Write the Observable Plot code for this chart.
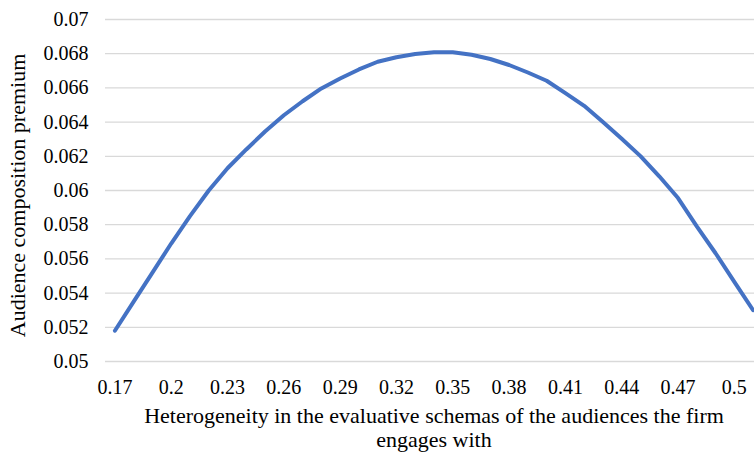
<!DOCTYPE html>
<html>
<head>
<meta charset="utf-8">
<script src="https://cdn.jsdelivr.net/npm/d3@7"></script>
<script src="https://cdn.jsdelivr.net/npm/@observablehq/plot@0.6"></script>
<style>
  html, body { margin: 0; padding: 0; background: #fff; }
  svg { display: block; }
  svg text { font-family: "Liberation Serif", "Times New Roman", serif; }
</style>
</head>
<body>
<div id="chart"></div>
<script>
const heterogeneity = [0.17,0.18,0.19,0.20,0.21,0.22,0.23,0.24,0.25,0.26,0.27,0.28,0.29,0.30,0.31,0.32,0.33,0.34,0.35,0.36,0.37,0.38,0.39,0.40,0.41,0.42,0.43,0.44,0.45,0.46,0.47,0.48,0.49,0.50,0.51];
const premium = [0.0518,0.0535,0.0552,0.0569,0.0585,0.0600,0.0613,0.0624,0.06345,0.0644,0.06522,0.06597,0.06655,0.06708,0.06753,0.06779,0.06798,0.06808,0.06808,0.06794,0.06769,0.06734,0.0669,0.06642,0.06569,0.06495,0.06401,0.06303,0.06201,0.06083,0.05956,0.0579,0.05633,0.05466,0.053];
const yTicks = [0.05,0.052,0.054,0.056,0.058,0.06,0.062,0.064,0.066,0.068,0.07];
const yTickLabels = ["0.05","0.052","0.054","0.056","0.058","0.06","0.062","0.064","0.066","0.068","0.07"];
const xTicks = [0.17,0.2,0.23,0.26,0.29,0.32,0.35,0.38,0.41,0.44,0.47,0.5];
const xTickLabels = ["0.17","0.2","0.23","0.26","0.29","0.32","0.35","0.38","0.41","0.44","0.47","0.5"];
const xTitle = "Heterogeneity in the evaluative schemas of the audiences the firm\nengages with";
const yTitle = "Audience composition premium";

const data = heterogeneity.map((x, i) => ({x, y: premium[i]}));

const chart = Plot.plot({
  width: 754,
  height: 452,
  marginLeft: 105,
  marginRight: 0,
  marginTop: 19,
  marginBottom: 91,
  style: "font-family: 'Liberation Serif', 'Times New Roman', serif; background: #fff; color: #000;",
  x: {domain: [0.165, 0.515], range: [105, 762]},
  y: {domain: [0.05, 0.07], range: [361, 19]},
  marks: [
    Plot.ruleY(yTicks, {x1: 0.165, x2: 0.515, stroke: "#d9d9d9", strokeWidth: 1.3}),
    Plot.axisY({ticks: yTicks, tickFormat: d => yTickLabels[yTicks.indexOf(d)], tickSize: 0, tickPadding: 17, fontSize: 20, label: null, fill: "#000"}),
    Plot.axisX({ticks: xTicks, tickFormat: d => xTickLabels[xTicks.indexOf(d)], tickSize: 0, tickPadding: 18, fontSize: 20, label: null, fill: "#000"}),
    Plot.line(data, {x: "x", y: "y", stroke: "#4472C4", strokeWidth: 4, strokeLinejoin: "round", strokeLinecap: "round"}),
    Plot.text([xTitle], {frameAnchor: "bottom", lineAnchor: "top", dy: 45, dx: 4, fontSize: 22, lineHeight: 1.07, fill: "#000"}),
    Plot.text([yTitle], {frameAnchor: "left", textAnchor: "middle", rotate: -90, dx: -88, dy: 5, fontSize: 22, fill: "#000"})
  ]
});
document.getElementById("chart").appendChild(chart);
</script>
</body>
</html>
